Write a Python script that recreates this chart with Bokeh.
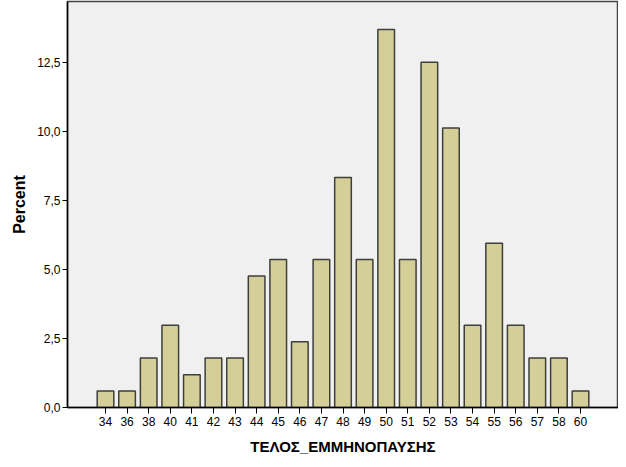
from bokeh.plotting import figure
from bokeh.models import FixedTicker, Range1d, ColumnDataSource
from bokeh.embed import file_html
from bokeh.resources import INLINE

ages = ["34", "36", "38", "40", "41", "42", "43", "44", "45", "46", "47", "48",
        "49", "50", "51", "52", "53", "54", "55", "56", "57", "58", "60"]
percent = [0.60, 0.60, 1.79, 2.98, 1.19, 1.79, 1.79, 4.76, 5.36, 2.38, 5.36, 8.33,
           5.36, 13.69, 5.36, 12.50, 10.12, 2.98, 5.95, 2.98, 1.79, 1.79, 0.60]
y_ticks = [0.0, 2.5, 5.0, 7.5, 10.0, 12.5]
y_tick_labels = ["0,0", "2,5", "5,0", "7,5", "10,0", "12,5"]

idx = list(range(len(ages)))
src = ColumnDataSource(dict(x=idx, top=percent))

p = figure(width=618, height=459, output_backend="svg", toolbar_location=None,
           x_range=Range1d(-1.76, 23.76), y_range=Range1d(0, 14.7),
           min_border_left=67, min_border_right=0, min_border_top=1, min_border_bottom=52)
p.background_fill_color = "#F0F0F0"
p.border_fill_color = "white"
p.outline_line_color = "#444444"
p.outline_line_width = 1.5
p.grid.visible = False

p.vbar(x="x", top="top", width=0.77, bottom=0, source=src,
       fill_color="#D4CF98", line_color="#3E3E3A", line_width=1.5)

xa = p.xaxis[0]
xa.ticker = FixedTicker(ticks=idx)
xa.major_label_overrides = {i: a for i, a in zip(idx, ages)}
xa.minor_tick_line_color = None
xa.major_tick_out = 6
xa.major_tick_in = 0
xa.major_label_standoff = 3
xa.axis_line_color = "black"
xa.axis_line_width = 1.5
xa.major_tick_line_color = "black"
xa.major_label_text_font = "Liberation Sans"
xa.major_label_text_font_size = "12px"
xa.major_label_text_color = "black"
xa.axis_label = "ΤΕΛΟΣ_ΕΜΜΗΝΟΠΑΥΣΗΣ"
xa.axis_label_text_font = "Liberation Sans"
xa.axis_label_text_font_style = "bold"
xa.axis_label_text_font_size = "15px"
xa.axis_label_text_color = "black"
xa.axis_label_standoff = 9

ya = p.yaxis[0]
ya.ticker = FixedTicker(ticks=y_ticks)
ya.major_label_overrides = {t: l for t, l in zip(y_ticks, y_tick_labels)}
ya.minor_tick_line_color = None
ya.major_tick_out = 5
ya.major_tick_in = 0
ya.major_label_standoff = 2
ya.axis_line_color = "black"
ya.axis_line_width = 1.5
ya.major_tick_line_color = "black"
ya.major_label_text_font = "Liberation Sans"
ya.major_label_text_font_size = "12px"
ya.major_label_text_color = "black"
ya.axis_label = "Percent"
ya.axis_label_text_font = "Liberation Sans"
ya.axis_label_text_font_style = "bold"
ya.axis_label_text_font_size = "16px"
ya.axis_label_text_color = "black"
ya.axis_label_standoff = 6

open("out.html", "w").write(file_html(p, INLINE))
